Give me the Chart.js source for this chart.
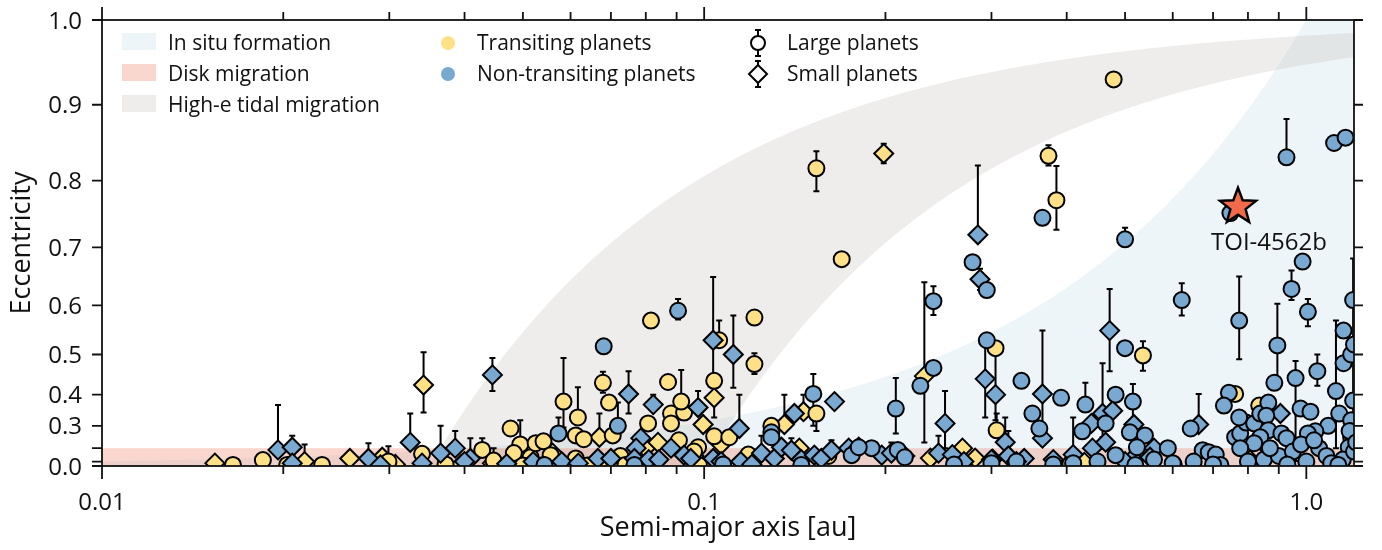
<!DOCTYPE html>
<html>
<head>
<meta charset="utf-8">
<script src="https://cdn.jsdelivr.net/npm/chart.js@4.4.1/dist/chart.umd.min.js"></script>
<style>
  html, body { margin: 0; padding: 0; background: #ffffff; }
  #wrap { width: 1382px; height: 550px; }
</style>
</head>
<body>
<div id="wrap"><canvas id="c" width="1382" height="550"></canvas></div>
<script>
// Each planet: [semi-major axis (au), eccentricity, upper error end, lower error end]
const transitingLarge = [
  [0.0165,0.05],[0.0185,0.115],[0.0203,0.05],[0.0232,0.05],[0.0299,0.10,0.21],[0.034,0.165,0.205],
  [0.0372,0.06],[0.0428,0.19,0.25],[0.0447,0.11,0.20],[0.0477,0.29],[0.0495,0.22,0.32],[0.0483,0.17],
  [0.0515,0.14],[0.0525,0.226],[0.0541,0.235],[0.0556,0.156],[0.0584,0.38,0.492,0.294],[0.0617,0.33,0.42],
  [0.0612,0.262],[0.0631,0.245],[0.0612,0.13],[0.0679,0.432,0.46,0.405],[0.0695,0.377],[0.0705,0.262],
  [0.0726,0.149],[0.0816,0.571],[0.0871,0.434],[0.0807,0.309],[0.0881,0.343],[0.0881,0.309],[0.0926,0.346],
  [0.0916,0.38,0.464],[0.0908,0.24],[0.1059,0.531,0.571],[0.1039,0.437,null,0.33],[0.1039,0.258],
  [0.1101,0.254],[0.1212,0.577],[0.1212,0.478,0.503,0.454],[0.1293,0.30],[0.1536,0.343,null,0.28],
  [0.1536,0.817,0.84,0.785],[0.1692,0.681],[0.4787,0.931],[0.3731,0.834,0.848,0.821],[0.3846,0.772,0.82,0.728],
  [0.3047,0.514,null,0.32],[0.306,0.283,0.343],[0.5354,0.498,0.529,0.462],[0.4058,0.07],[0.6026,0.05],
  [0.7617,0.402],[0.8352,0.368],[0.1608,0.15],[0.050,0.03],[0.054,0.04],[0.064,0.03],[0.074,0.05],
  [0.098,0.04],[0.0977,0.205],[0.1184,0.16],[0.0962,0.18]
];
const transitingSmall = [
  [0.0154,0.08],[0.0217,0.10,0.22],[0.0258,0.13],[0.0292,0.14,0.18],[0.0342,0.426,0.505,0.346],[0.0307,0.06],
  [0.0395,0.06],[0.0445,0.08],[0.0515,0.10],[0.056,0.17],[0.0666,0.06],[0.067,0.254,0.343],[0.077,0.05],
  [0.0799,0.20],[0.0838,0.23],[0.0962,0.15],[0.0996,0.305],[0.1039,0.391],[0.1067,0.22],[0.1359,0.305,0.40],
  [0.1462,0.349,0.40],[0.1439,0.20],[0.1987,0.837,0.85,0.824],[0.2321,0.449,0.642,0.23],[0.2375,0.133],
  [0.2685,0.20],[0.2818,0.133],[0.3013,0.124],[0.4279,0.09],[0.8714,0.188],[0.8066,0.115]
];
const nonTransitingLarge = [
  [0.0573,0.27,0.33],[0.0681,0.518],[0.0719,0.30,0.377],[0.0905,0.59,0.612,0.573],[0.1293,0.275],[0.1293,0.254],
  [0.1518,0.402,0.454,0.30],[0.2081,0.359,0.444,0.27],[0.1897,0.20],[0.2791,0.676],[0.2947,0.628],
  [0.2403,0.608,0.635,0.582],[0.2947,0.531],[0.2403,0.469],[0.2286,0.424],[0.3364,0.437],[0.3915,0.391],
  [0.3508,0.343],[0.3603,0.29],[0.3646,0.746],[0.50,0.713,0.731],[0.50,0.514],[0.927,0.832,0.882],
  [1.112,0.851],[1.162,0.858],[0.748,0.753],[0.4296,0.371,0.432],[0.4246,0.279],[0.4642,0.309],[0.4823,0.40],
  [0.5152,0.38,0.429,0.205],[0.5093,0.275],[0.5395,0.262],[0.5232,0.205],[0.5888,0.20],[0.6211,0.61,0.64,0.581],
  [0.6427,0.29],[0.7736,0.571,0.652,0.489],[0.7437,0.405],[0.7297,0.368],[0.8849,0.432],[0.8952,0.52,0.603,0.432],
  [0.9597,0.444,0.485,0.105],[0.945,0.63,0.662,0.61],[0.9859,0.677],[1.006,0.588,0.612,0.56],[1.043,0.461,0.50,0.424],
  [1.12,0.41,0.571,0.20],[1.153,0.551],[1.153,0.48],[1.187,0.50],[1.196,0.61,0.682,0.25],[1.20,0.522],
  [1.196,0.383],[1.134,0.343],[1.187,0.32],[1.087,0.30],[1.035,0.279],[1.006,0.27],[0.9782,0.359],[1.016,0.349],
  [1.187,0.254],[1.176,0.205],[0.7617,0.254],[0.7766,0.27],[0.7943,0.312],[0.8191,0.309],[0.8385,0.343],
  [0.8648,0.377],[0.8581,0.336],[0.8648,0.283],[0.8385,0.254],[0.8191,0.226],[0.7766,0.20],[0.9091,0.27],
  [0.927,0.25],[0.7736,0.33],[0.6729,0.188],[0.6886,0.176],[0.7074,0.16],[0.5586,0.12],[0.60,0.08],[0.65,0.10],
  [0.72,0.05],[0.80,0.10],[0.85,0.12],[0.90,0.15],[0.95,0.18],[1.00,0.10],[1.05,0.20],[1.08,0.15],[1.15,0.12],
  [1.20,0.18],[1.10,0.08],[0.98,0.22],[0.87,0.20],[1.03,0.24],[1.18,0.28],[1.21,0.23],[0.4823,0.156],
  [0.1758,0.156],[0.1806,0.205],[0.2096,0.19],[0.2154,0.14],[0.30,0.08],[0.33,0.10],[0.41,0.08],[0.45,0.10],
  [0.26,0.06],[0.0766,0.05],[0.0543,0.05],[0.1075,0.06],[0.145,0.05],[0.38,0.06],[0.52,0.05],[0.70,0.06],
  [0.93,0.06],[1.13,0.05]
];
const nonTransitingSmall = [
  [0.0196,0.19,0.37],[0.0207,0.205,0.26,0.15],[0.0207,0.08],[0.0277,0.13,0.226],[0.0325,0.23,0.343],
  [0.0365,0.17,0.30],[0.0386,0.20,0.28],[0.0445,0.452,0.492,0.41],[0.0409,0.13,0.25],[0.0749,0.402,0.461,0.343],
  [0.0785,0.25],[0.0771,0.20],[0.0823,0.371,0.40],[0.0977,0.362,0.41],[0.1035,0.531,0.651,0.42],
  [0.1118,0.50,0.581,0.419],[0.1144,0.29,0.40],[0.1412,0.343],[0.1646,0.38],[0.2848,0.72,0.821],
  [0.2871,0.647,0.665,0.628],[0.2929,0.442,0.529,0.33],[0.3047,0.40],[0.3162,0.231,0.33],[0.3646,0.402,0.551,0.30],
  [0.3646,0.25],[0.4714,0.551,0.63,0.461],[0.4396,0.309],[0.4588,0.343,0.48,0.254],[0.4769,0.352],[0.5172,0.305],
  [0.5586,0.20],[0.6626,0.305,0.402],[0.9056,0.343],[0.2512,0.309,0.41,0.20],[0.4414,0.20],[0.4642,0.231],
  [0.5152,0.13],[0.0666,0.13],[0.07,0.13],[0.0766,0.13,0.22],[0.0809,0.12],[0.0841,0.12],[0.0926,0.156],
  [0.095,0.13],[0.0881,0.20],[0.1035,0.13],[0.1067,0.10],[0.1245,0.17,0.26],[0.1308,0.13],[0.1344,0.205],
  [0.1396,0.188,0.25],[0.145,0.12],[0.1524,0.156],[0.1565,0.13],[0.1627,0.188,0.24],[0.1738,0.20],[0.1806,0.205],
  [0.1972,0.156],[0.2046,0.17,0.23],[0.2154,0.149],[0.245,0.17,0.26],[0.2583,0.16],[0.27,0.10],[0.30,0.12],
  [0.32,0.15,0.28],[0.34,0.13],[0.38,0.12],[0.41,0.16,0.33],[0.33,0.10],[0.50,0.10],[0.55,0.14],[0.029,0.05],
  [0.034,0.08],[0.040,0.10],[0.047,0.07],[0.052,0.10],[0.058,0.10],[0.0618,0.08],[0.115,0.10],[0.12,0.06]
];
const highlighted = [[0.77, 0.765]];
const highlightedName = 'TOI-4562b';

// Formation regions
const diskMigrationMaxE = 0.2;            // e below this
const tidalTrackLimits = [0.035, 0.1];    // a(1 - e^2) in au
const inSituScaleA = 1.0;                 // e_max^2 = a / inSituScaleA

// Axes
const xRange = [0.01, 1.2];
const xMajorTicks = [0.01, 0.1, 1.0];
const xMajorLabels = ['0.01', '0.1', '1.0'];
const yTickValues = [0, 0.1, 0.2, 0.3, 0.4, 0.5, 0.6, 0.7, 0.8, 0.9, 1.0];
const yLabelValues = [0, 0.3, 0.4, 0.5, 0.6, 0.7, 0.8, 0.9, 1.0];
const xTitle = 'Semi-major axis [au]';
const yTitle = 'Eccentricity';

// Legend text
const regionLabels = ['In situ formation', 'Disk migration', 'High-e tidal migration'];
const colourLabels = ['Transiting planets', 'Non-transiting planets'];
const sizeLabels = ['Large planets', 'Small planets'];

const YELLOW = '#fee187';
const BLUE = '#79a8d0';
const STAR = '#f26a4a';
const FILL_INSITU = 'rgba(120,180,210,0.13)';
const FILL_DISK = 'rgba(235,110,80,0.28)';
const FILL_TIDAL = 'rgba(180,170,160,0.21)';
const FONT = '"Open Sans", "Noto Sans", sans-serif';
const INK = '#111111';

const toPoints = rows => rows.map(r => ({ x: r[0], y: r[1] * r[1], e: r[1], hi: r[2] ?? null, lo: r[3] ?? null }));

function makeStar(R, fill) {
  const s = Math.ceil(2 * R + 8);
  const c = document.createElement('canvas');
  c.width = s; c.height = s;
  const g = c.getContext('2d');
  const cx = s / 2, cy = s / 2 + R * 0.09;
  g.beginPath();
  for (let k = 0; k < 10; k++) {
    const ang = -Math.PI / 2 + k * Math.PI / 5;
    const rad = k % 2 ? R * 0.42 : R;
    const px = cx + rad * Math.cos(ang), py = cy + rad * Math.sin(ang);
    k ? g.lineTo(px, py) : g.moveTo(px, py);
  }
  g.closePath();
  g.fillStyle = fill; g.fill();
  g.lineWidth = 2.4; g.lineJoin = 'miter'; g.strokeStyle = '#000'; g.stroke();
  return c;
}

// Shaded formation regions and error bars under the markers
const regionsPlugin = {
  id: 'regions',
  beforeDatasetsDraw(chart) {
    const { ctx, chartArea: ca } = chart;
    const X = chart.scales.x, Y = chart.scales.y;
    ctx.save();
    ctx.beginPath();
    ctx.rect(ca.left, ca.top, ca.right - ca.left, ca.bottom - ca.top);
    ctx.clip();

    // in situ: e^2 <= a / inSituScaleA
    ctx.beginPath();
    ctx.moveTo(X.getPixelForValue(xRange[0]), Y.getPixelForValue(0));
    const N = 400;
    for (let i = 0; i <= N; i++) {
      const a = xRange[0] * Math.pow(inSituScaleA / xRange[0], i / N);
      ctx.lineTo(X.getPixelForValue(a), Y.getPixelForValue(Math.min(1, a / inSituScaleA)));
    }
    ctx.lineTo(ca.right + 2, ca.top - 2);
    ctx.lineTo(ca.right + 2, ca.bottom);
    ctx.closePath();
    ctx.fillStyle = FILL_INSITU;
    ctx.fill();

    // high-e tidal migration: constant angular momentum tracks
    ctx.beginPath();
    const M = 400;
    for (let i = 0; i <= M; i++) {
      const t = 0.999 * i / M;
      const a = tidalTrackLimits[0] / (1 - t);
      const px = Math.min(X.getPixelForValue(a), ca.right + 50);
      i ? ctx.lineTo(px, Y.getPixelForValue(t)) : ctx.moveTo(px, Y.getPixelForValue(t));
    }
    for (let i = M; i >= 0; i--) {
      const t = 0.999 * i / M;
      const a = tidalTrackLimits[1] / (1 - t);
      const px = Math.min(X.getPixelForValue(a), ca.right + 50);
      ctx.lineTo(px, Y.getPixelForValue(t));
    }
    ctx.closePath();
    ctx.fillStyle = FILL_TIDAL;
    ctx.fill();

    // disk migration: low eccentricity strip
    const yTop = Y.getPixelForValue(diskMigrationMaxE * diskMigrationMaxE);
    ctx.fillStyle = FILL_DISK;
    ctx.fillRect(ca.left, yTop, ca.right - ca.left, Y.getPixelForValue(0) - yTop);

    // error bars
    ctx.strokeStyle = '#000';
    ctx.lineWidth = 2;
    chart.data.datasets.forEach(ds => {
      if (!ds.errorBars) return;
      ds.data.forEach(p => {
        if (p.hi == null && p.lo == null) return;
        const x = X.getPixelForValue(p.x);
        const yc = Y.getPixelForValue(p.y);
        const yh = p.hi != null ? Y.getPixelForValue(p.hi * p.hi) : yc;
        const yl = p.lo != null ? Y.getPixelForValue(p.lo * p.lo) : yc;
        ctx.beginPath();
        ctx.moveTo(x, yh); ctx.lineTo(x, yl);
        if (p.hi != null) { ctx.moveTo(x - 3, yh); ctx.lineTo(x + 3, yh); }
        if (p.lo != null) { ctx.moveTo(x - 3, yl); ctx.lineTo(x + 3, yl); }
        ctx.stroke();
      });
    });
    ctx.restore();
  }
};

// Frame, ticks, labels, titles and legend
const framePlugin = {
  id: 'frame',
  afterDraw(chart) {
    const { ctx, chartArea: ca } = chart;
    const X = chart.scales.x, Y = chart.scales.y;
    ctx.save();
    ctx.strokeStyle = INK;
    ctx.lineWidth = 1.8;
    ctx.lineCap = 'butt';
    ctx.strokeRect(ca.left, ca.top, ca.right - ca.left, ca.bottom - ca.top);

    // x ticks (major + minor), bottom and top
    const xMinor = [];
    for (const base of [0.01, 0.1]) for (let k = 2; k <= 9; k++) xMinor.push(base * k);
    ctx.beginPath();
    xMajorTicks.forEach(v => {
      const x = X.getPixelForValue(v);
      ctx.moveTo(x, ca.bottom); ctx.lineTo(x, ca.bottom + 13);
      ctx.moveTo(x, ca.top); ctx.lineTo(x, ca.top - 13);
    });
    xMinor.forEach(v => {
      if (v > xRange[1]) return;
      const x = X.getPixelForValue(v);
      ctx.moveTo(x, ca.bottom); ctx.lineTo(x, ca.bottom + 8);
      ctx.moveTo(x, ca.top); ctx.lineTo(x, ca.top - 8);
    });
    // y ticks, left and right
    yTickValues.forEach(e => {
      const y = Y.getPixelForValue(e * e);
      ctx.moveTo(ca.left, y); ctx.lineTo(ca.left - 10, y);
      ctx.moveTo(ca.right, y); ctx.lineTo(ca.right + 9, y);
    });
    ctx.stroke();

    ctx.fillStyle = INK;
    ctx.font = '24px ' + FONT;
    ctx.textAlign = 'center';
    ctx.textBaseline = 'alphabetic';
    xMajorTicks.forEach((v, i) => ctx.fillText(xMajorLabels[i], X.getPixelForValue(v), 510));
    ctx.textAlign = 'right';
    yLabelValues.forEach(e => ctx.fillText(e.toFixed(1), ca.left - 20, Y.getPixelForValue(e * e) + 8.5));

    ctx.font = '27px ' + FONT;
    ctx.textAlign = 'center';
    ctx.fillText(xTitle, (ca.left + ca.right) / 2, 536);
    ctx.save();
    ctx.translate(30, (ca.top + ca.bottom) / 2);
    ctx.rotate(-Math.PI / 2);
    ctx.fillText(yTitle, 0, 0);
    ctx.restore();

    // legend: regions
    ctx.font = '21px ' + FONT;
    ctx.textAlign = 'left';
    const rowBase = [50, 81, 112];
    const fills = [FILL_INSITU, FILL_DISK, FILL_TIDAL];
    regionLabels.forEach((t, i) => {
      ctx.fillStyle = '#ffffff';
      ctx.fillRect(122, rowBase[i] - 17, 34, 17);
      ctx.fillStyle = fills[i];
      ctx.fillRect(122, rowBase[i] - 17, 34, 17);
      ctx.fillStyle = INK;
      ctx.fillText(t, 168, rowBase[i]);
    });
    // legend: colours
    [YELLOW, BLUE].forEach((c, i) => {
      ctx.beginPath();
      ctx.arc(448, rowBase[i] - 7, 7, 0, Math.PI * 2);
      ctx.fillStyle = c;
      ctx.fill();
      ctx.fillStyle = INK;
      ctx.fillText(colourLabels[i], 477, rowBase[i]);
    });
    // legend: sizes
    ctx.strokeStyle = '#000';
    ctx.lineWidth = 2;
    const mx = 758;
    [0, 1].forEach(i => {
      const cy = rowBase[i] - 7;
      ctx.beginPath();
      ctx.moveTo(mx, cy - 13); ctx.lineTo(mx, cy + 13);
      ctx.moveTo(mx - 3, cy - 13); ctx.lineTo(mx + 3, cy - 13);
      ctx.moveTo(mx - 3, cy + 13); ctx.lineTo(mx + 3, cy + 13);
      ctx.stroke();
      ctx.beginPath();
      if (i === 0) ctx.arc(mx, cy, 7, 0, Math.PI * 2);
      else { ctx.moveTo(mx, cy - 9); ctx.lineTo(mx + 9, cy); ctx.lineTo(mx, cy + 9); ctx.lineTo(mx - 9, cy); ctx.closePath(); }
      ctx.fillStyle = '#ffffff';
      ctx.fill();
      ctx.stroke();
      ctx.fillStyle = INK;
      ctx.fillText(sizeLabels[i], 787, rowBase[i]);
    });

    // name of the highlighted planet
    const hx = X.getPixelForValue(highlighted[0][0]);
    const hy = Y.getPixelForValue(highlighted[0][1] * highlighted[0][1]);
    ctx.font = '24px ' + FONT;
    ctx.textAlign = 'center';
    ctx.fillStyle = INK;
    ctx.fillText(highlightedName, hx + 31, hy + 45);
    ctx.restore();
  }
};

const markerBase = { borderColor: '#000000', borderWidth: 2, clip: 0, errorBars: true };

new Chart(document.getElementById('c'), {
  type: 'scatter',
  data: {
    datasets: [
      { label: highlightedName, data: toPoints(highlighted), pointStyle: makeStar(19, STAR), pointRadius: 19, clip: 0 },
      { ...markerBase, label: 'Non-transiting large', data: toPoints(nonTransitingLarge), pointStyle: 'circle', pointRadius: 8, backgroundColor: BLUE },
      { ...markerBase, label: 'Non-transiting small', data: toPoints(nonTransitingSmall), pointStyle: 'rectRot', pointRadius: 9.5, backgroundColor: BLUE },
      { ...markerBase, label: 'Transiting large', data: toPoints(transitingLarge), pointStyle: 'circle', pointRadius: 8, backgroundColor: YELLOW },
      { ...markerBase, label: 'Transiting small', data: toPoints(transitingSmall), pointStyle: 'rectRot', pointRadius: 9.5, backgroundColor: YELLOW }
    ]
  },
  options: {
    responsive: false,
    animation: false,
    devicePixelRatio: 1,
    events: [],
    layout: { padding: { left: 102, right: 28, top: 14, bottom: 84 } },
    plugins: { legend: { display: false }, tooltip: { enabled: false } },
    scales: {
      x: { type: 'logarithmic', min: xRange[0], max: xRange[1], display: false },
      y: { type: 'linear', min: 0, max: 1, display: false }
    }
  },
  plugins: [regionsPlugin, framePlugin]
});
</script>
</body>
</html>
